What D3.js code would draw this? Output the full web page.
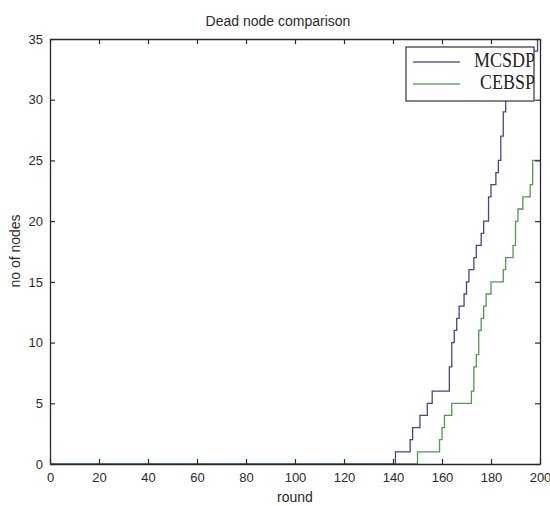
<!DOCTYPE html>
<html><head><meta charset="utf-8">
<script src="https://cdn.jsdelivr.net/npm/d3@7"></script>
<style>body{margin:0;background:#fff}svg{display:block}</style>
</head><body>
<script>
const title = "Dead node comparison";
const xLabel = "round";
const yLabel = "no of nodes";
const xTicks = [0,20,40,60,80,100,120,140,160,180,200];
const yTicks = [0,5,10,15,20,25,30,35];
const seriesNames = ["MCSDP","CEBSP"];
const seriesColors = ["#45458e","#4f9a4f"];
// step data: [round, dead nodes] (value holds from that round on)
const mcsdpRounds = [0,140,141,147,148,150,151,154,156,163,164,165,166,167,169,170,171,173,174,176,177,179,180,182,183,184,185,186,188,190,193,196,199,200];
const mcsdpValues = [0,0,1,2,3,3,4,5,6,8,10,11,12,13,14,15,16,17,18,19,20,22,23,24,25,27,29,30,31,32,33,34,35,35];
const cebspRounds = [0,150,159,160,161,164,172,173,174,175,176,177,178,180,185,186,189,190,191,193,196,197,200];
const cebspValues = [0,1,2,3,4,5,6,8,9,11,12,13,14,15,16,17,18,20,21,22,23,25,25];

const W=550,H=506;
const m={l:50,r:10,t:39,b:42};
const svg=d3.select("body").append("svg").attr("width",W).attr("height",H);
const x=d3.scaleLinear().domain([0,200]).range([50,540]);
const y=d3.scaleLinear().domain([0,35]).range([464,39]);
const fontS="'Liberation Sans',Arial,sans-serif";
const tc="#2a2a2a";

// clip
svg.append("clipPath").attr("id","pc").append("rect")
  .attr("x",50).attr("y",39).attr("width",490).attr("height",425);

const series=[
  {name:seriesNames[0],color:seriesColors[0],pts:mcsdpRounds.map((r,i)=>[r,mcsdpValues[i]])},
  {name:seriesNames[1],color:seriesColors[1],pts:cebspRounds.map((r,i)=>[r,cebspValues[i]])}
];
const line=d3.line().x(d=>x(d[0])).y(d=>y(d[1])).curve(d3.curveStepAfter);
const g=svg.append("g").attr("clip-path","url(#pc)");
series.forEach(s=>{
  g.append("path").attr("d",line(s.pts)).attr("fill","none")
   .attr("stroke",s.color).attr("stroke-width",1.3);
});

// axes (MATLAB box style, ticks inward)
const tl=5;
const axB=d3.axisBottom(x).tickValues(xTicks).tickSizeInner(-tl).tickSizeOuter(0).tickPadding(9);
const axT=d3.axisTop(x).tickValues(xTicks).tickSizeInner(-tl).tickSizeOuter(0).tickFormat("");
const axL=d3.axisLeft(y).tickValues(yTicks).tickSizeInner(-tl).tickSizeOuter(0).tickPadding(7);
const axR=d3.axisRight(y).tickValues(yTicks).tickSizeInner(-tl).tickSizeOuter(0).tickFormat("");
function style(sel){
  sel.selectAll("path").attr("stroke","#2a2a2a").attr("stroke-width",1.3);
  sel.selectAll("line").attr("stroke","#2a2a2a").attr("stroke-width",1.2);
  sel.selectAll("text").attr("fill",tc).style("font-family",fontS).style("font-size","13px");
}
svg.append("g").attr("transform","translate(0,464)").call(axB).call(style);
svg.append("g").attr("transform","translate(0,39)").call(axT).call(style);
svg.append("g").attr("transform","translate(50,0)").call(axL).call(style);
svg.append("g").attr("transform","translate(540,0)").call(axR).call(style);

// title & labels
svg.append("text").attr("x",278).attr("y",26).attr("text-anchor","middle")
  .style("font-family",fontS).style("font-size","14px").attr("fill",tc).text(title);
svg.append("text").attr("x",295).attr("y",502).attr("text-anchor","middle")
  .style("font-family",fontS).style("font-size","14px").attr("fill",tc).text(xLabel);
svg.append("text").attr("transform","translate(20,251) rotate(-90)").attr("text-anchor","middle")
  .style("font-family",fontS).style("font-size","14px").attr("fill",tc).text(yLabel);

// legend
const lg=svg.append("g");
lg.append("clipPath").attr("id","lc").append("rect").attr("x",406).attr("y",47).attr("width",128).attr("height",54);
lg.append("rect").attr("x",406).attr("y",47).attr("width",128).attr("height",54)
  .attr("fill","#fff").attr("stroke","#333").attr("stroke-width",1.2);
const lgi=lg.append("g").attr("clip-path","url(#lc)");
series.forEach((s,i)=>{
  const yy=62+i*22;
  lgi.append("line").attr("x1",413).attr("x2",460).attr("y1",yy).attr("y2",yy)
    .attr("stroke",s.color).attr("stroke-width",1.3).attr("opacity",0.85);
  lgi.append("text").attr("x",i===0?474:480).attr("y",0)
    .attr("transform",`translate(0,${yy+5}) scale(1,1.12)`)
    .style("font-family","'Liberation Serif','Times New Roman',serif").style("font-size","18px")
    .attr("fill","#222").text(s.name);
});
</script>
</body></html>
